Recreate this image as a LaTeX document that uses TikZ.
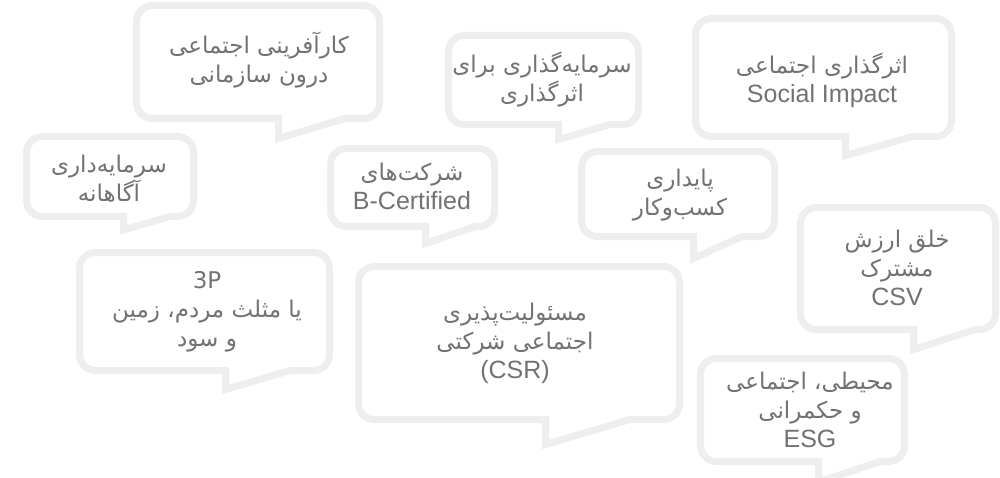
\documentclass[tikz,border=0pt]{standalone}
\usepackage{fontspec}
\setmainfont{Liberation Sans}
\newfontfamily\arabicfont[Script=Arabic]{DejaVu Sans}
\newfontfamily\dvfont{DejaVu Sans}
\TeXXeTstate=1
\newcommand\fa[1]{{\arabicfont\beginR #1\endR}}
\newcommand\la[1]{{\fontsize{25}{29}\selectfont #1}}
\definecolor{bordergray}{HTML}{EEEEEE}
\definecolor{textgray}{HTML}{727272}
\tikzset{
  bub/.style={draw=bordergray, line width=7, line join=miter},
  txt/.style={text=textgray, align=center, inner sep=0pt, font=\fontsize{23}{29}\selectfont}
}
% bubble outline: x1,y1,x2,y2,tailx,tailend,tipy
\newcommand\bubbleshape[7]{%
  \draw[bub] (#5,#4) -- (#5,#7) -- (#6,#4) -- ({#3-16},#4)
    arc[start angle=90,end angle=0,radius=16] -- (#3,{#2+16})
    arc[start angle=0,end angle=-90,radius=16] -- ({#1+16},#2)
    arc[start angle=-90,end angle=-180,radius=16] -- (#1,{#4-16})
    arc[start angle=180,end angle=90,radius=16] -- cycle;}
\begin{document}
\begin{tikzpicture}[x=1pt,y=-1pt]
\useasboundingbox (0,0) rectangle (1000,478);
\fill[white] (0,0) rectangle (1000,478);
% A
\bubbleshape{136.5}{5.5}{379.5}{118.5}{278.5}{345}{138.5}
\node[txt] (a) at (259,60) {\fa{کارآفرینی اجتماعی}\\\fa{درون سازمانی}};
% B
\bubbleshape{26.5}{136.5}{193.5}{216.5}{123.5}{170}{230}
\node[txt] (b) at (109,178.5) {\fa{سرمایه‌داری}\\\fa{آگاهانه}};
% C
\bubbleshape{330.5}{148.5}{494.5}{226.5}{425.5}{475}{243.5}
\node[txt] (c) at (412,186.5) {\fa{شرکت‌های}\\\la{B-Certified}};
% D
\bubbleshape{448.5}{35.5}{638.5}{124.5}{558.5}{610}{139.5}
\node[txt] (d) at (542,80) {\fa{سرمایه‌گذاری برای}\\\fa{اثرگذاری}};
% E
\bubbleshape{695.5}{18.5}{951.5}{136.5}{845.5}{913}{155.5}
\node[txt] (e) at (822,80) {\fa{اثرگذاری اجتماعی}\\\la{Social Impact}};
% F
\bubbleshape{581.5}{151.5}{774.5}{236.5}{693.5}{742}{258.5}
\node[txt] (f) at (680,195) {\fa{پایداری}\\\fa{کسب‌وکار}};
% G
\bubbleshape{800.5}{207.5}{995.5}{329.5}{913.5}{975}{349.5}
\node[txt] (g) at (897,268) {\fa{خلق ارزش}\\\fa{مشترک}\\\la{CSV}};
% H
\bubbleshape{79.5}{252.5}{329.5}{370.5}{225.5}{290}{389.5}
\node[txt] (h) at (207,312) {{\dvfont 3P}\\\fa{یا مثلث مردم، زمین}\\\fa{و سود}};
% I
\bubbleshape{358.5}{266.5}{679.5}{419.5}{545.5}{630}{444.5}
\node[txt] (i) at (515,343) {\fa{مسئولیت‌پذیری}\\\fa{اجتماعی شرکتی}\\\la{(CSR)}};
% J
\bubbleshape{700.5}{358.5}{904.5}{461.5}{818.5}{880}{482}
\node[txt] (j) at (810,410) {\fa{محیطی، اجتماعی}\\\fa{و حکمرانی}\\\la{ESG}};
\end{tikzpicture}
\end{document}
